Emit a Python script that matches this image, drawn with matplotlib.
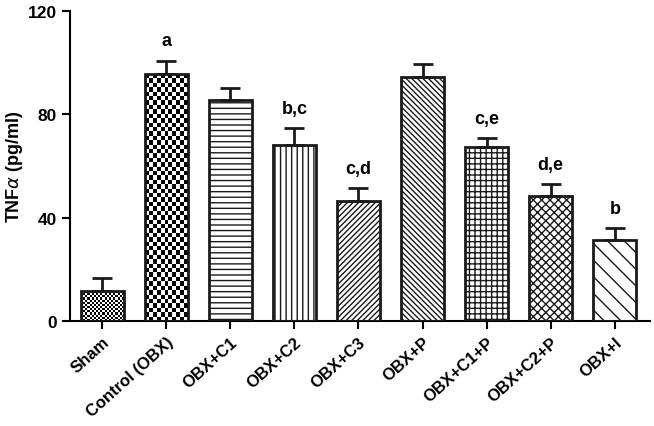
import numpy as np
import matplotlib.pyplot as plt

plt.rcParams['font.family'] = ['Liberation Sans', 'DejaVu Sans']
plt.rcParams['hatch.linewidth'] = 1.0

groups = ["Sham", "Control (OBX)", "OBX+C1", "OBX+C2", "OBX+C3",
          "OBX+P", "OBX+C1+P", "OBX+C2+P", "OBX+I"]
means = [11.6, 95.6, 85.5, 68.1, 46.5, 94.5, 67.4, 48.4, 31.4]
errs = [5.0, 5.2, 4.7, 6.5, 5.0, 5.0, 3.5, 4.6, 4.6]
letters = ["", "a", "", "b,c", "c,d", "", "c,e", "d,e", "b"]
hatches = [None, None, "---", "|||", "//////", "\\\\\\\\\\\\", "+++", "xxxx", "\\\\"]

fig = plt.figure(figsize=(6.54, 4.27), dpi=100)
ax = fig.add_axes([0.107, 0.246, 0.887, 0.726])

x = np.arange(len(groups))
w = 0.67
bars = ax.bar(x, means, w, color="none", edgecolor="#1a1a1a", linewidth=2,
              zorder=3)
for b, h in zip(bars, hatches):
    if h:
        b.set_hatch(h)

ax.errorbar(x, means, yerr=[np.zeros(len(errs)), errs], fmt="none",
            ecolor="#1a1a1a", elinewidth=2, capsize=7, capthick=2, zorder=2)

# checkerboard fills for the first two bars
def checker(bar, ncols, nrows, light):
    board = (np.add.outer(np.arange(nrows), np.arange(ncols)) % 2).astype(float)
    x0, y0 = bar.get_x(), bar.get_y()
    im = ax.imshow(board, cmap="gray", vmin=0, vmax=light,
                   extent=(x0, x0 + bar.get_width(), y0, y0 + bar.get_height()),
                   aspect="auto", interpolation="nearest", zorder=2.5)
    im.set_clip_path(bar)

checker(bars[0], 20, 14, 1.0)
checker(bars[1], 11, 56, 1.0)

for xi, m, e, t in zip(x, means, errs, letters):
    if t:
        ax.annotate(t, (xi, m + e), xytext=(0, 8), textcoords="offset points",
                    ha="center", va="bottom", fontsize=13, fontweight="bold")

ax.set_xlim(-0.5, 8.55)
ax.set_ylim(0, 120)
ax.set_yticks([0, 40, 80, 120])
ax.set_xticks(x)
ax.set_xticklabels(groups, rotation=42, ha="right", rotation_mode="anchor",
                   fontsize=12, fontweight="bold")
for lab in ax.get_yticklabels():
    lab.set_fontweight("bold")
    lab.set_fontsize(12.5)
ax.set_ylabel(r"TNF$\alpha$ (pg/ml)", fontsize=13, fontweight="bold", labelpad=2)
ax.spines["top"].set_visible(False)
ax.spines["right"].set_visible(False)
ax.spines["left"].set_linewidth(1.5)
ax.spines["bottom"].set_linewidth(1.5)
ax.tick_params(width=1.5, length=6, direction="out")

fig.savefig("out.png", dpi=100)
